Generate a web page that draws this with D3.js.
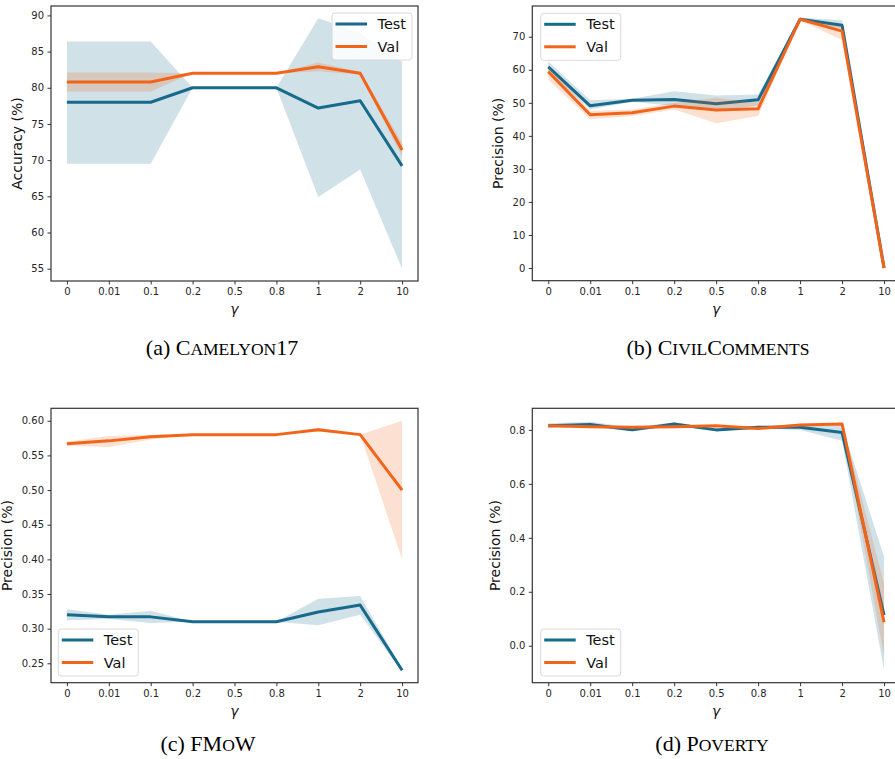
<!DOCTYPE html>
<html>
<head>
<meta charset="utf-8">
<script src="https://cdn.jsdelivr.net/npm/d3@7"></script>
<style>
  html, body { margin: 0; padding: 0; background: #fff; }
  svg { display: block; }
</style>
</head>
<body>
<svg id="chart" width="895" height="759"></svg>
<script>
// ---------- data ----------
const gammaLabels = ["0", "0.01", "0.1", "0.2", "0.5", "0.8", "1", "2", "10"];
const seriesNames = ["Test", "Val"];

// (a) Camelyon17 — accuracy (%)
const camelyonTest   = [78.0, 78.0, 78.0, 80.0, 80.0, 80.0, 77.2, 78.2, 69.2];
const camelyonTestLo = [69.5, 69.5, 69.5, 80.0, 80.0, 80.0, 64.9, 68.7, 55.0];
const camelyonTestHi = [86.4, 86.4, 86.4, 80.0, 80.0, 80.0, 89.6, 87.6, 83.6];
const camelyonVal    = [80.8, 80.8, 80.8, 82.0, 82.0, 82.0, 82.9, 82.0, 71.4];
const camelyonValLo  = [79.5, 79.5, 79.5, 82.0, 82.0, 82.0, 82.3, 81.8, 70.5];
const camelyonValHi  = [82.1, 82.1, 82.1, 82.0, 82.0, 82.0, 83.5, 82.2, 72.4];
const camelyonTicks  = [55, 60, 65, 70, 75, 80, 85, 90];

// (b) CivilComments — precision (%)
const civilTest   = [60.9, 49.1, 50.8, 51.0, 49.7, 50.9, 75.3, 73.5, 0];
const civilTestLo = [59.3, 48.0, 50.3, 49.0, 47.5, 49.2, 74.8, 72.5, 0];
const civilTestHi = [62.5, 50.8, 51.2, 53.5, 52.2, 52.5, 75.8, 75.0, 0];
const civilVal    = [59.4, 46.4, 47.0, 49.0, 47.8, 48.2, 75.3, 71.7, 0];
const civilValLo  = [57.0, 45.0, 46.0, 48.0, 43.8, 46.0, 75.0, 69.0, 0];
const civilValHi  = [61.0, 47.5, 48.0, 50.0, 51.5, 50.0, 75.6, 73.0, 0];
const civilTicks  = [0, 10, 20, 30, 40, 50, 60, 70];

// (c) FMoW — precision (%)
const fmowTest   = [0.320, 0.317, 0.317, 0.310, 0.310, 0.310, 0.324, 0.334, 0.240];
const fmowTestLo = [0.312, 0.314, 0.308, 0.310, 0.310, 0.310, 0.305, 0.320, 0.238];
const fmowTestHi = [0.328, 0.320, 0.326, 0.310, 0.310, 0.310, 0.343, 0.347, 0.242];
const fmowVal    = [0.567, 0.571, 0.577, 0.580, 0.580, 0.580, 0.587, 0.580, 0.500];
const fmowValLo  = [0.564, 0.562, 0.573, 0.580, 0.580, 0.580, 0.584, 0.580, 0.400];
const fmowValHi  = [0.570, 0.578, 0.580, 0.580, 0.580, 0.580, 0.590, 0.580, 0.600];
const fmowTicks  = [0.25, 0.30, 0.35, 0.40, 0.45, 0.50, 0.55, 0.60];

// (d) Poverty — precision (%)
const povertyTest   = [0.815, 0.820, 0.800, 0.822, 0.800, 0.810, 0.810, 0.790, 0.114];
const povertyTestLo = [0.808, 0.810, 0.795, 0.815, 0.795, 0.805, 0.800, 0.760, -0.090];
const povertyTestHi = [0.825, 0.830, 0.810, 0.828, 0.805, 0.815, 0.820, 0.815, 0.330];
const povertyVal    = [0.815, 0.812, 0.810, 0.812, 0.815, 0.805, 0.818, 0.822, 0.087];
const povertyValLo  = [0.812, 0.810, 0.808, 0.810, 0.812, 0.802, 0.815, 0.818, -0.040];
const povertyValHi  = [0.818, 0.815, 0.812, 0.814, 0.818, 0.808, 0.821, 0.826, 0.230];
const povertyTicks  = [0.0, 0.2, 0.4, 0.6, 0.8];

// ---------- style ----------
const testColor = "#176a8b";
const valColor = "#f26419";
const tickFont = "DejaVu Sans";

const svg = d3.select("#chart");

function panel(cfg) {
  const g = svg.append("g");
  const x = d3.scalePoint().domain(gammaLabels).range([cfg.left, cfg.right]).padding(0.38);
  const y = d3.scaleLinear().domain(cfg.yDomain).range([cfg.bottom, cfg.top]);

  const clipId = "clip" + cfg.id;
  svg.append("clipPath").attr("id", clipId).append("rect")
    .attr("x", cfg.left).attr("y", cfg.top)
    .attr("width", cfg.right - cfg.left).attr("height", cfg.bottom - cfg.top);

  const plot = g.append("g").attr("clip-path", `url(#${clipId})`);

  const series = [
    { name: "Test", mean: cfg.test, lo: cfg.testLo, hi: cfg.testHi, color: testColor },
    { name: "Val", mean: cfg.val, lo: cfg.valLo, hi: cfg.valHi, color: valColor }
  ];

  const area = d3.area()
    .x((d, i) => x(gammaLabels[i]))
    .y0((d) => y(d[0]))
    .y1((d) => y(d[1]));
  const line = d3.line()
    .x((d, i) => x(gammaLabels[i]))
    .y((d) => y(d));

  series.forEach((s) => {
    plot.append("path")
      .datum(s.lo.map((v, i) => [v, s.hi[i]]))
      .attr("d", area)
      .attr("fill", s.color)
      .attr("fill-opacity", 0.2)
      .attr("stroke", "none");
    plot.append("path")
      .datum(s.mean)
      .attr("d", line)
      .attr("fill", "none")
      .attr("stroke", s.color)
      .attr("stroke-width", 3)
      .attr("stroke-linejoin", "round")
      .attr("stroke-linecap", "butt");
  });

  // axes
  const xAxis = d3.axisBottom(x).tickSize(3.5).tickPadding(3.5);
  const gx = g.append("g").attr("transform", `translate(0,${cfg.bottom})`).call(xAxis);
  const yAxis = d3.axisLeft(y).tickValues(cfg.ticks).tickFormat(d3.format(cfg.fmt)).tickSize(3.5).tickPadding(3.5);
  const gy = g.append("g").attr("transform", `translate(${cfg.left},0)`).call(yAxis);
  [gx, gy].forEach((a) => {
    a.select(".domain").remove();
    a.selectAll(".tick line").attr("stroke", "#333").attr("stroke-width", 1);
    a.selectAll(".tick text").attr("fill", "#262626")
      .style("font-family", tickFont).style("font-size", "10px");
  });

  // frame
  g.append("rect")
    .attr("x", cfg.left).attr("y", cfg.top)
    .attr("width", cfg.right - cfg.left).attr("height", cfg.bottom - cfg.top)
    .attr("fill", "none").attr("stroke", "#333").attr("stroke-width", 1.2);

  // y label
  g.append("text")
    .attr("transform", `translate(${cfg.ylabelX},${(cfg.top + cfg.bottom) / 2}) rotate(-90)`)
    .attr("text-anchor", "middle")
    .attr("dominant-baseline", "central")
    .style("font-family", tickFont).style("font-size", "14px").attr("fill", "#111")
    .text(cfg.ylabel);

  // x label (gamma)
  g.append("text")
    .attr("x", (x(gammaLabels[0]) + x(gammaLabels[gammaLabels.length - 1])) / 2)
    .attr("y", cfg.bottom + 33)
    .attr("text-anchor", "middle")
    .style("font-family", tickFont).style("font-size", "14px").style("font-style", "italic")
    .attr("fill", "#111")
    .text("γ");

  // legend
  const lg = g.append("g").attr("transform", `translate(${cfg.legX},${cfg.legY})`);
  lg.append("rect")
    .attr("width", 80).attr("height", 47).attr("rx", 3)
    .attr("fill", "#fff").attr("fill-opacity", 0.85)
    .attr("stroke", "#d9d9d9").attr("stroke-width", 1);
  series.forEach((s, i) => {
    const yy = 11 + i * 22.5;
    lg.append("line")
      .attr("x1", 3.5).attr("x2", 35).attr("y1", yy).attr("y2", yy)
      .attr("stroke", s.color).attr("stroke-width", 3);
    lg.append("text")
      .attr("x", 45.5).attr("y", yy).attr("dominant-baseline", "central")
      .style("font-family", tickFont).style("font-size", "14.5px").attr("fill", "#111")
      .text(seriesNames[i]);
  });

  // caption with small caps
  const cap = svg.append("text")
    .attr("x", cfg.capX).attr("y", cfg.capY)
    .attr("text-anchor", "middle")
    .style("font-family", "'Liberation Serif', 'Times New Roman', serif")
    .style("font-size", "22px").attr("fill", "#000");
  cfg.caption.forEach(([txt, small]) => {
    cap.append("tspan").style("font-size", small ? "17.5px" : "22px").text(txt);
  });
}

panel({
  id: "a", left: 51, right: 418, top: 6, bottom: 281, yDomain: [53.3, 91.3],
  test: camelyonTest, testLo: camelyonTestLo, testHi: camelyonTestHi,
  val: camelyonVal, valLo: camelyonValLo, valHi: camelyonValHi,
  ticks: camelyonTicks, fmt: "d", ylabel: "Accuracy (%)", ylabelX: 17,
  legX: 332, legY: 13,
  caption: [["(a) C", false], ["AMELYON", true], ["17", false]], capX: 222, capY: 355
});
panel({
  id: "b", left: 532.3, right: 900, top: 6, bottom: 280.7, yDomain: [-3.84, 79.3],
  test: civilTest, testLo: civilTestLo, testHi: civilTestHi,
  val: civilVal, valLo: civilValLo, valHi: civilValHi,
  ticks: civilTicks, fmt: "d", ylabel: "Precision (%)", ylabelX: 498,
  legX: 540.7, legY: 13.3,
  caption: [["(b) C", false], ["IVIL", true], ["C", false], ["OMMENTS", true]], capX: 718, capY: 355
});
panel({
  id: "c", left: 51, right: 418, top: 408.3, bottom: 682.7, yDomain: [0.222, 0.618],
  test: fmowTest, testLo: fmowTestLo, testHi: fmowTestHi,
  val: fmowVal, valLo: fmowValLo, valHi: fmowValHi,
  ticks: fmowTicks, fmt: ".2f", ylabel: "Precision (%)", ylabelX: 7,
  legX: 58.3, legY: 629,
  caption: [["(c) FM", false], ["O", true], ["W", false]], capX: 208, capY: 751
});
panel({
  id: "d", left: 532.3, right: 900, top: 408.3, bottom: 682.7, yDomain: [-0.137, 0.880],
  test: povertyTest, testLo: povertyTestLo, testHi: povertyTestHi,
  val: povertyVal, valLo: povertyValLo, valHi: povertyValHi,
  ticks: povertyTicks, fmt: ".1f", ylabel: "Precision (%)", ylabelX: 495,
  legX: 540.7, legY: 629,
  caption: [["(d) P", false], ["OVERTY", true]], capX: 712, capY: 751
});
</script>
</body>
</html>
